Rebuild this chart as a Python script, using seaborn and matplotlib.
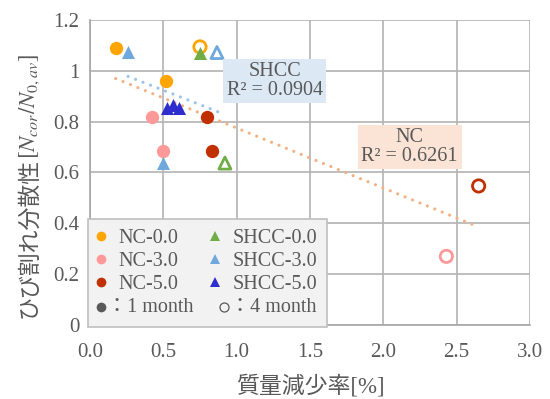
import numpy as np
import pandas as pd
import matplotlib
matplotlib.use("Agg")
import matplotlib.pyplot as plt
from matplotlib.lines import Line2D
import seaborn as sns

# mass loss [%] and crack dispersion for each specimen group (1 month / 4 month)
nc00_1m_x = [0.175, 0.52]
nc00_1m_y = [1.09, 0.96]
nc00_4m_x = [0.75]
nc00_4m_y = [1.094]
nc30_1m_x = [0.42, 0.50]
nc30_1m_y = [0.82, 0.685]
nc30_4m_x = [2.43]
nc30_4m_y = [0.27]
nc50_1m_x = [0.80, 0.83]
nc50_1m_y = [0.82, 0.685]
nc50_4m_x = [2.65]
nc50_4m_y = [0.547]

shcc00_1m_x = [0.75]
shcc00_1m_y = [1.072]
shcc00_4m_x = [0.92]
shcc00_4m_y = [0.637]
shcc30_1m_x = [0.26, 0.50]
shcc30_1m_y = [1.075, 0.637]
shcc30_4m_x = [0.866]
shcc30_4m_y = [1.072]
shcc50_1m_x = [0.525, 0.566, 0.607]
shcc50_1m_y = [0.855, 0.865, 0.855]

# linear trend lines: slope, intercept
trend_slope = {"NC": -0.236, "SHCC": -0.227}
trend_intercept = {"NC": 1.011, "SHCC": 1.037}
r2_labels = {"SHCC": "0.0904", "NC": "0.6261"}

x_ticks = [0.0, 0.5, 1.0, 1.5, 2.0, 2.5, 3.0]
y_ticks = [0, 0.2, 0.4, 0.6, 0.8, 1.0, 1.2]
y_ticklabels = ["0", "0.2", "0.4", "0.6", "0.8", "1", "1.2"]

C_NC00 = "#FFA500"
C_NC30 = "#FF9999"
C_NC50 = "#C03000"
C_SH00 = "#70AD47"
C_SH30 = "#6FA8DC"
C_SH50 = "#2E2ECF"
TXT = "#595959"

sns.set_style("white")
plt.rcParams["font.family"] = ["Liberation Serif", "Noto Sans CJK JP"]
plt.rcParams["mathtext.fontset"] = "stix"

W, H_PX = 550, 399
fig = plt.figure(figsize=(5.5, 3.99), dpi=100)
ax = fig.add_axes([0.1636, 0.1855, 0.80, 0.7644])

groups = [
    ("NC-0.0", "1m", nc00_1m_x, nc00_1m_y, C_NC00, "o"),
    ("NC-0.0", "4m", nc00_4m_x, nc00_4m_y, C_NC00, "o"),
    ("NC-3.0", "1m", nc30_1m_x, nc30_1m_y, C_NC30, "o"),
    ("NC-3.0", "4m", nc30_4m_x, nc30_4m_y, C_NC30, "o"),
    ("NC-5.0", "1m", nc50_1m_x, nc50_1m_y, C_NC50, "o"),
    ("NC-5.0", "4m", nc50_4m_x, nc50_4m_y, C_NC50, "o"),
    ("SHCC-0.0", "1m", shcc00_1m_x, shcc00_1m_y, C_SH00, "^"),
    ("SHCC-0.0", "4m", shcc00_4m_x, shcc00_4m_y, C_SH00, "^"),
    ("SHCC-3.0", "1m", shcc30_1m_x, shcc30_1m_y, C_SH30, "^"),
    ("SHCC-3.0", "4m", shcc30_4m_x, shcc30_4m_y, C_SH30, "^"),
    ("SHCC-5.0", "1m", shcc50_1m_x, shcc50_1m_y, C_SH50, "^"),
]

frames = []
for name, age, xs, ys, c, m in groups:
    frames.append(pd.DataFrame({"x": xs, "y": ys, "series": name, "age": age}))
df = pd.concat(frames, ignore_index=True)
df["kind"] = df["series"].str.split("-").str[0]

# dotted trend lines spanning each material's data range
trend_colors = {"NC": "#F4B183", "SHCC": "#9DC3E6"}
for kind in ["NC", "SHCC"]:
    sub = df[df["kind"] == kind]
    xx = np.array([sub["x"].min(), sub["x"].max()])
    ax.plot(xx, trend_slope[kind] * xx + trend_intercept[kind], color=trend_colors[kind],
            lw=2.3, linestyle=(0, (0.01, 2.5)), dash_capstyle="round", zorder=2)

for name, age, xs, ys, c, m in groups:
    sub = df[(df["series"] == name) & (df["age"] == age)]
    size = 92 if m == "o" else 88
    if age == "1m":
        sns.scatterplot(data=sub, x="x", y="y", marker=m, color=c, s=size,
                        edgecolor=c, linewidth=0, ax=ax, zorder=3)
    else:
        sns.scatterplot(data=sub, x="x", y="y", marker=m, color=c, s=size * 0.85,
                        facecolors="none", edgecolor=c, linewidth=2.0, ax=ax, zorder=3)

ax.set_xlim(0, 3.0)
ax.set_ylim(0, 1.2)
ax.set_xticks(x_ticks)
ax.set_xticklabels([f"{v:.1f}" for v in x_ticks])
ax.set_yticks(y_ticks)
ax.set_yticklabels(y_ticklabels)
ax.grid(True, color="#B3B3B3", lw=1.2)
ax.set_axisbelow(True)
for s in ["top", "right"]:
    ax.spines[s].set_visible(False)
for s in ["left", "bottom"]:
    ax.spines[s].set_color("#A6A6A6")
    ax.spines[s].set_linewidth(1.2)
ax.tick_params(axis="both", length=0, labelsize=15, labelcolor=TXT)
ax.tick_params(axis="x", pad=13)
ax.tick_params(axis="y", pad=7.5)
ax.set_xlabel("質量減少率[%]", fontsize=16.5, color=TXT, labelpad=9)
ax.set_ylabel("")

# R² annotation boxes
ax.text(1.26, 0.96, "SHCC\nR² = " + r2_labels["SHCC"], ha="center", va="center",
        fontsize=14.5, color=TXT, linespacing=0.95, zorder=4,
        bbox=dict(boxstyle="square,pad=0.18", fc="#DCE8F4", ec="none"))
ax.text(2.18, 0.70, "NC\nR² = " + r2_labels["NC"], ha="center", va="center",
        fontsize=14.5, color=TXT, linespacing=0.95, zorder=4,
        bbox=dict(boxstyle="square,pad=0.18", fc="#FBE4D6", ec="none"))

def mk(marker, color):
    return Line2D([], [], linestyle="none", marker=marker, markersize=7,
                  markerfacecolor=color, markeredgecolor=color, markeredgewidth=0)

blank = Line2D([], [], linestyle="none", marker=None)
note_labels = ["：1 month", "：4 month"]
handles = [mk("o", C_NC00), mk("o", C_NC30), mk("o", C_NC50), blank,
           mk("^", C_SH00), mk("^", C_SH30), mk("^", C_SH50), blank]
labels = ["NC-0.0", "NC-3.0", "NC-5.0", "\u3000",
          "SHCC-0.0", "SHCC-3.0", "SHCC-5.0", "\u3000"]
leg_fs = 14.5
leg = ax.legend(handles, labels, ncol=2, loc="lower left",
                bbox_to_anchor=(-0.0045, -0.0066),
                fontsize=leg_fs, frameon=True, fancybox=False, framealpha=1,
                facecolor="#F2F2F2", edgecolor="#BFBFBF", handletextpad=0.7,
                columnspacing=1.69, labelspacing=0.19, borderpad=0.5, handlelength=0.3,
                borderaxespad=0)
leg.get_frame().set_linewidth(1.2)
leg_texts = leg.get_texts()
for t in leg_texts:
    t.set_color(TXT)
leg.set_zorder(5)

# y-axis title: Japanese text followed by the italic ratio, sharing one baseline
lab_kw = dict(rotation=90, rotation_mode="anchor", ha="left", va="baseline",
              fontsize=16.5, color=TXT)
yl1 = fig.text(0, 0, "ひび割れ分散性", **lab_kw)
yl2 = fig.text(0, 0, r"$[N_{cor}/N_{0,av}]$", **lab_kw)
fig.canvas.draw()
rend = fig.canvas.get_renderer()
H = fig.bbox.height
h1 = yl1.get_window_extent(rend).height
h2 = yl2.get_window_extent(rend).height
y_start = (H_PX - 186) / H_PX * H - (h1 + h2 - 2) / 2
xb = 35 / W
yl1.set_position((xb, y_start / H))
yl2.set_position((xb, (y_start + h1 - 2) / H))

# age key row of the legend: filled / open dot followed by its note
for i, (cx, fill, tx) in enumerate([(101, TXT, 107), (224, "none", 230)]):
    bb = leg_texts[3 + 4 * i].get_window_extent(rend)
    cy = (bb.y0 + bb.y1) / 2
    fig.add_artist(Line2D([cx / W], [cy / H + 0.002], transform=fig.transFigure,
                          linestyle="none", marker="o", markersize=7 if i == 0 else 6.5,
                          markerfacecolor=fill, markeredgecolor=TXT,
                          markeredgewidth=0 if i == 0 else 0.9, zorder=6))
    fig.text(tx / W, bb.y0 / H, note_labels[i], ha="left", va="bottom",
             fontsize=leg_fs, color=TXT, zorder=6)

fig.savefig("out.png", dpi=100)
